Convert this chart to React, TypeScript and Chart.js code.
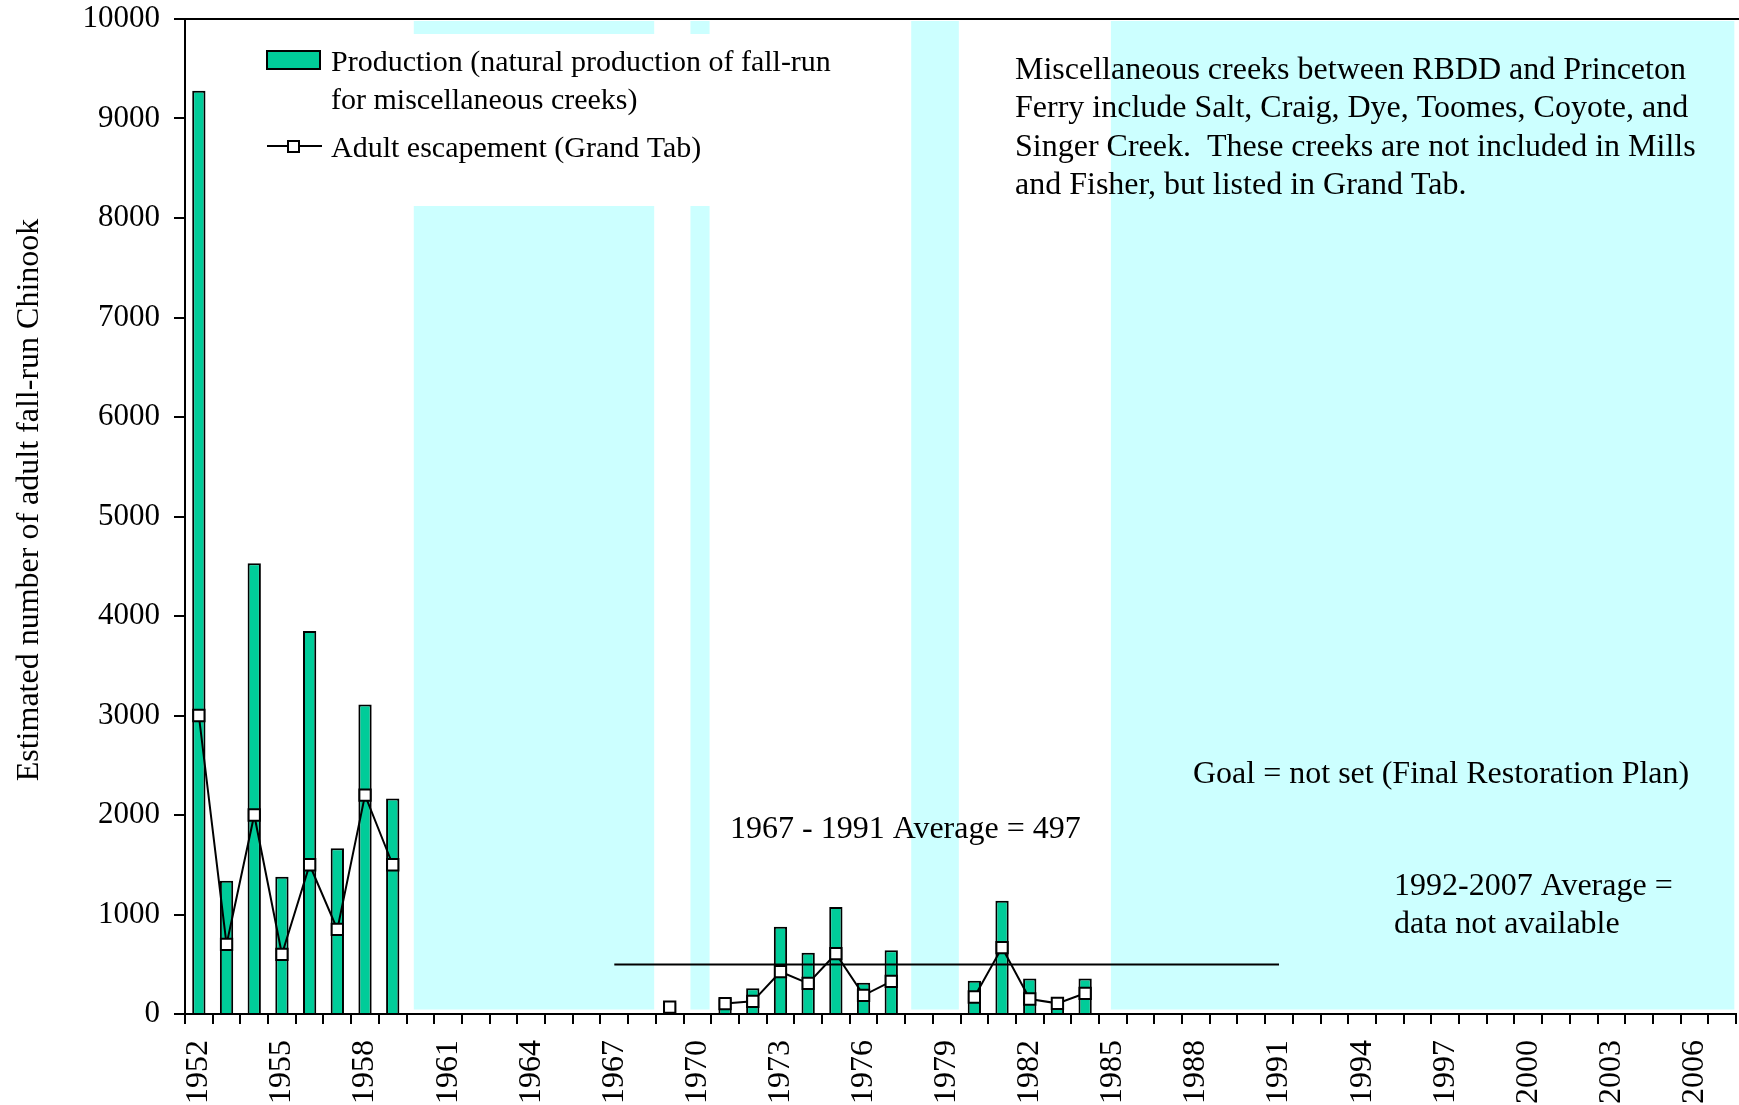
import React, { useEffect, useRef } from 'react';
import { Chart, registerables } from 'chart.js';

Chart.register(...registerables);

const years = [
  '1952', '1953', '1954', '1955', '1956', '1957', '1958', '1959', '1960', '1961',
  '1962', '1963', '1964', '1965', '1966', '1967', '1968', '1969', '1970', '1971',
  '1972', '1973', '1974', '1975', '1976', '1977', '1978', '1979', '1980', '1981',
  '1982', '1983', '1984', '1985', '1986', '1987', '1988', '1989', '1990', '1991',
  '1992', '1993', '1994', '1995', '1996', '1997', '1998', '1999', '2000', '2001',
  '2002', '2003', '2004', '2005', '2006', '2007',
];

// Production (natural production of fall-run for miscellaneous creeks)
const production: (number | null)[] = [
  9280, 1340, 4530, 1380, 3850, 1665, 3110, 2165,
  null, null, null, null, null, null, null, null, null,
  110, null,
  158, 258, 878, 616, 1075, 315, 640,
  null, null,
  335, 1139, 358, 168, 358,
  null, null, null, null, null, null, null, null, null, null, null, null,
  null, null, null, null, null, null, null, null, null, null, null,
];

// Adult escapement (Grand Tab)
const escapement: (number | null)[] = [
  3000, 700, 2000, 600, 1500, 850, 2200, 1500,
  null, null, null, null, null, null, null, null, null,
  70, null,
  105, 127, 425, 308, 606, 188, 328,
  null, null,
  171, 667, 151, 107, 208,
  null, null, null, null, null, null, null, null, null, null, null, null,
  null, null, null, null, null, null, null, null, null, null, null,
];

const avgValue = 497;
const avgStartYear = '1967';
const avgEndYear = '1991';

// years with no data (shaded)
const shadeStartYears = ['1960', '1970', '1978', '1985'];
const shadeEndYears = ['1968', '1970', '1979', '2007'];
const shadeStartInset = [0.26, 0.25, 0.22, 0.43];

const yMin = 0;
const yMax = 10000;
const yStep = 1000;
const labelEvery = 3;

const annotationLines = [
  'Miscellaneous creeks between RBDD and Princeton',
  'Ferry include Salt, Craig, Dye, Toomes, Coyote, and',
  'Singer Creek.  These creeks are not included in Mills',
  'and Fisher, but listed in Grand Tab.',
];
const avgLabel = '1967 - 1991 Average = 497';
const goalLabel = 'Goal = not set (Final Restoration Plan)';
const laterAvgLines = ['1992-2007 Average =', 'data not available'];
const legendProdLines = ['Production (natural production of fall-run', 'for miscellaneous creeks)'];
const legendEscLabel = 'Adult escapement (Grand Tab)';
const yTitle = 'Estimated number of adult fall-run Chinook';

const FONT = "'Liberation Serif', 'Times New Roman', Times, serif";
const GREEN = '#00CC99';
const CYAN = '#CCFFFF';

const avgData = years.map((yr, i) =>
  i >= years.indexOf(avgStartYear) && i <= years.indexOf(avgEndYear) ? avgValue : null
);

const decorPlugin = {
  id: 'decor',
  beforeDatasetsDraw(chart: any) {
    const { ctx, scales } = chart;
    const x = scales.x;
    const y = scales.y;
    const band = x.getPixelForValue(1) - x.getPixelForValue(0);
    ctx.save();
    ctx.fillStyle = CYAN;
    const top = y.getPixelForValue(9980);
    const bottom = y.getPixelForValue(45);
    for (let i = 0; i < shadeStartYears.length; i++) {
      const si = years.indexOf(shadeStartYears[i]);
      const ei = years.indexOf(shadeEndYears[i]);
      const left = x.getPixelForValue(si) - band / 2 + band * shadeStartInset[i];
      const right = x.getPixelForValue(ei) + band / 2 - band * 0.06;
      ctx.fillRect(left, top, right - left, bottom - top);
    }
    // legend background
    ctx.fillStyle = '#ffffff';
    ctx.fillRect(240, 34, 560, 172);
    ctx.restore();
  },
  afterDraw(chart: any) {
    const { ctx, chartArea } = chart;
    ctx.save();
    // top border
    ctx.strokeStyle = '#000';
    ctx.lineWidth = 2;
    ctx.beginPath();
    ctx.moveTo(chartArea.left, chartArea.top);
    ctx.lineTo(chart.width, chartArea.top);
    ctx.stroke();

    ctx.fillStyle = '#000';
    ctx.textAlign = 'left';
    ctx.textBaseline = 'alphabetic';

    // legend
    ctx.font = `30px ${FONT}`;
    ctx.fillStyle = GREEN;
    ctx.fillRect(267, 51, 53, 18);
    ctx.strokeStyle = '#000';
    ctx.lineWidth = 2;
    ctx.strokeRect(267, 51, 53, 18);
    ctx.fillStyle = '#000';
    ctx.fillText(legendProdLines[0], 331, 71);
    ctx.fillText(legendProdLines[1], 331, 109);
    ctx.lineWidth = 2;
    ctx.beginPath();
    ctx.moveTo(267, 146);
    ctx.lineTo(322, 146);
    ctx.stroke();
    ctx.fillStyle = '#fff';
    ctx.fillRect(288, 141, 11, 11);
    ctx.strokeRect(288, 141, 11, 11);
    ctx.fillStyle = '#000';
    ctx.fillText(legendEscLabel, 331, 157);

    // annotations
    ctx.font = `32px ${FONT}`;
    annotationLines.forEach((t, i) => ctx.fillText(t, 1015, 79 + i * 38.3));
    ctx.fillText(avgLabel, 730, 838);
    ctx.fillText(goalLabel, 1193, 783);
    ctx.fillText(laterAvgLines[0], 1394, 895);
    ctx.fillText(laterAvgLines[1], 1394, 933);

    // y title
    ctx.translate(30, 500);
    ctx.rotate(-Math.PI / 2);
    ctx.textAlign = 'center';
    ctx.textBaseline = 'middle';
    ctx.font = `32px ${FONT}`;
    ctx.fillText(yTitle, 0, 0);
    ctx.restore();
  },
};

export default function App() {
  const canvasRef = useRef<HTMLCanvasElement | null>(null);

  useEffect(() => {
    const canvas = canvasRef.current;
    if (!canvas) return;
    const chart = new Chart(canvas, {
      type: 'bar',
      data: {
        labels: years,
        datasets: [
          {
            type: 'line',
            label: 'Adult escapement (Grand Tab)',
            data: escapement,
            borderColor: '#000',
            borderWidth: 2,
            pointStyle: 'rect',
            pointRadius: 8,
            pointBackgroundColor: '#fff',
            pointBorderColor: '#000',
            pointBorderWidth: 2,
            spanGaps: false,
            tension: 0,
            order: 1,
          } as any,
          {
            type: 'line',
            label: 'Average',
            data: avgData,
            borderColor: '#000',
            borderWidth: 2,
            pointRadius: 0,
            spanGaps: false,
            order: 2,
          } as any,
          {
            type: 'bar',
            label: 'Production',
            data: production,
            backgroundColor: GREEN,
            borderColor: '#000',
            borderWidth: 2,
            barPercentage: 0.48,
            categoryPercentage: 1,
            order: 3,
          } as any,
        ],
      },
      options: {
        responsive: false,
        animation: false,
        devicePixelRatio: 1,
        layout: { autoPadding: false, padding: { left: 0, right: 3, top: 19, bottom: 0 } },
        plugins: {
          legend: { display: false },
          tooltip: { enabled: false },
        },
        scales: {
          x: {
            type: 'category',
            offset: true,
            grid: {
              offset: true,
              drawOnChartArea: false,
              drawTicks: true,
              tickLength: 10,
              color: '#000',
              lineWidth: 2,
            },
            border: { display: true, color: '#000', width: 2 },
            ticks: {
              autoSkip: false,
              maxRotation: 90,
              minRotation: 90,
              padding: 16,
              color: '#000',
              font: { family: FONT, size: 32 },
              callback: (_v: any, i: number) => (i % labelEvery === 0 ? years[i] : ''),
            },
            afterFit: (scale: any) => {
              scale.height = 91;
              scale.paddingLeft = 0;
              scale.paddingRight = 0;
            },
          },
          y: {
            min: yMin,
            max: yMax,
            grid: {
              drawOnChartArea: false,
              drawTicks: true,
              tickLength: 11,
              color: '#000',
              lineWidth: 2,
            },
            border: { display: true, color: '#000', width: 2 },
            ticks: {
              stepSize: yStep,
              padding: 14,
              color: '#000',
              font: { family: FONT, size: 31 },
              callback: (v: any) => String(v),
            },
            afterFit: (scale: any) => {
              scale.width = 185;
              scale.paddingTop = 0;
              scale.paddingBottom = 0;
            },
          },
        },
      },
      plugins: [decorPlugin],
    });
    return () => chart.destroy();
  }, []);

  return (
    <div style={{ position: 'fixed', left: 0, top: 0, width: 1739, height: 1105, background: '#fff' }}>
      <canvas ref={canvasRef} width={1739} height={1105} style={{ width: 1739, height: 1105, display: 'block' }} />
    </div>
  );
}
